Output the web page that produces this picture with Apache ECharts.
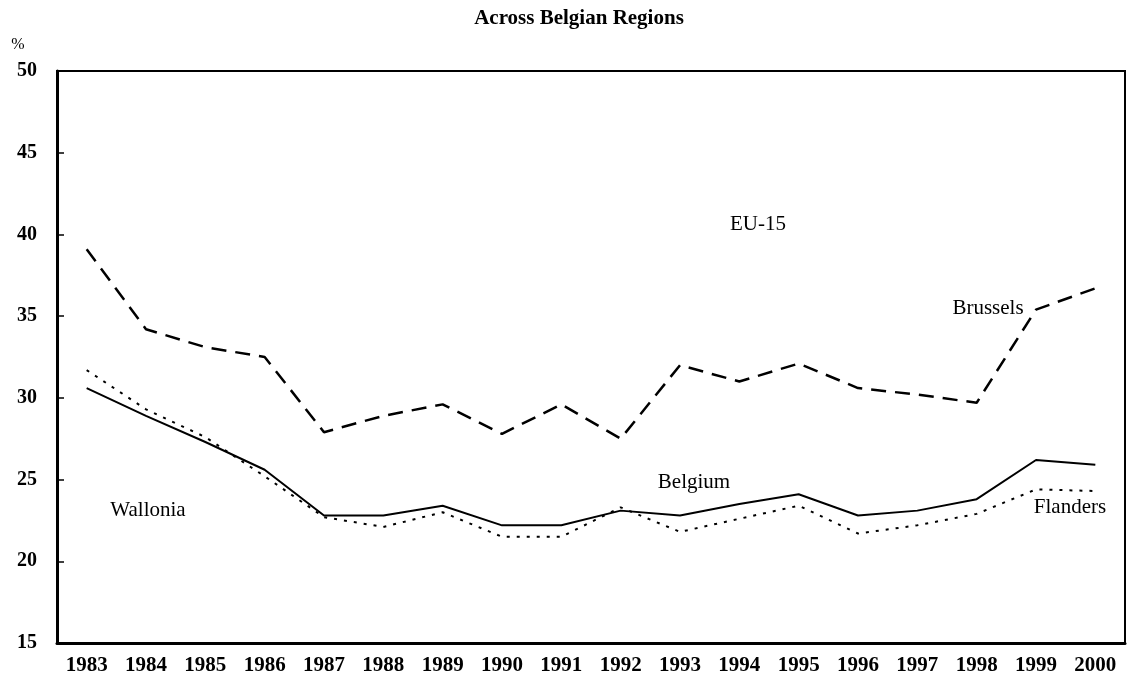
<!DOCTYPE html>
<html>
<head>
<meta charset="utf-8">
<script src="https://cdn.jsdelivr.net/npm/echarts@6/dist/echarts.min.js"></script>
<style>
html,body{margin:0;padding:0;background:#fff;}
#chart{width:1130px;height:690px;}
</style>
</head>
<body>
<div id="chart"></div>
<script>
var years = ['1983','1984','1985','1986','1987','1988','1989','1990','1991','1992','1993','1994','1995','1996','1997','1998','1999','2000'];
var brussels = [39.1,34.2,33.1,32.5,27.9,28.9,29.6,27.8,29.6,27.5,32.0,31.0,32.1,30.6,30.2,29.7,35.4,36.7];
var belgium  = [30.6,28.9,27.3,25.6,22.8,22.8,23.4,22.2,22.2,23.1,22.8,23.5,24.1,22.8,23.1,23.8,26.2,25.9];
var flanders = [31.7,29.3,27.6,25.2,22.7,22.1,23.0,21.5,21.5,23.3,21.8,22.6,23.4,21.7,22.2,22.9,24.4,24.3];
var yTicks = {min:15, max:50, interval:5};
var titleText = 'Across Belgian Regions';
var annotations = [
  {text:'EU-15', cx:758, cy:224},
  {text:'Brussels', cx:988, cy:308},
  {text:'Belgium', cx:694, cy:482},
  {text:'Wallonia', cx:148, cy:510},
  {text:'Flanders', cx:1070, cy:507}
];

var serif = '"Liberation Serif","DejaVu Serif",serif';
var chart = echarts.init(document.getElementById('chart'));
var graphics = [
  {type:'text', x:579, y:19, style:{text:titleText, font:'bold 21px '+serif, fill:'#000', textAlign:'center', textVerticalAlign:'middle'}},
  {type:'text', x:18, y:45, style:{text:'%', font:'16px '+serif, fill:'#000', textAlign:'center', textVerticalAlign:'middle'}}
];
annotations.forEach(function(a){
  graphics.push({type:'text', x:a.cx, y:a.cy, style:{text:a.text, font:'21px '+serif, fill:'#000', textAlign:'center', textVerticalAlign:'middle'}});
});
chart.setOption({
  animation:false,
  backgroundColor:'#fff',
  grid:{left:57, right:5, top:71, bottom:47, show:true, borderColor:'#000', borderWidth:2},
  xAxis:{
    type:'category', data:years, boundaryGap:true,
    axisLine:{lineStyle:{color:'#000', width:3}},
    axisTick:{inside:true, length:7, lineStyle:{color:'#000', width:1.5}},
    axisLabel:{color:'#000', fontFamily:serif, fontSize:21, fontWeight:'bold', margin:12, interval:0},
    splitLine:{show:false}
  },
  yAxis:{
    type:'value', min:yTicks.min, max:yTicks.max, interval:yTicks.interval,
    axisLine:{show:true, lineStyle:{color:'#000', width:3}},
    axisTick:{show:true, inside:true, length:7, lineStyle:{color:'#000', width:1.5}},
    axisLabel:{color:'#000', fontFamily:serif, fontSize:20, fontWeight:'bold', margin:20},
    splitLine:{show:false}
  },
  series:[
    {name:'Brussels', type:'line', data:brussels, symbol:'none', lineStyle:{color:'#000', width:2.5, type:[15,9]}},
    {name:'Belgium', type:'line', data:belgium, symbol:'none', lineStyle:{color:'#000', width:2, type:'solid'}},
    {name:'Flanders', type:'line', data:flanders, symbol:'none', lineStyle:{color:'#000', width:2, type:[3,7]}}
  ],
  graphic:graphics
});
</script>
</body>
</html>
